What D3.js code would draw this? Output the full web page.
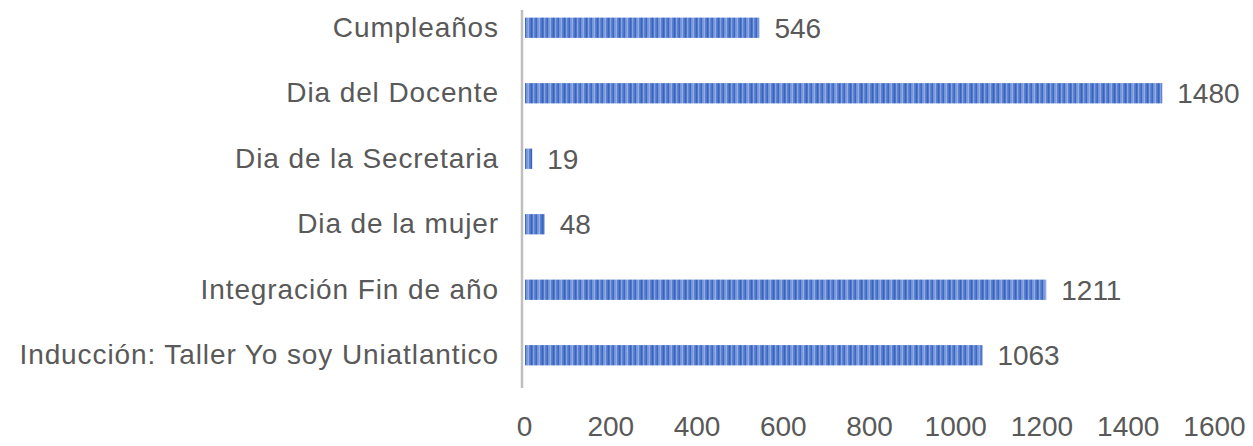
<!DOCTYPE html>
<html>
<head>
<meta charset="utf-8">
<script src="https://cdn.jsdelivr.net/npm/d3@7"></script>
<style>
html,body{margin:0;padding:0;background:#fff;}
svg{display:block;}
text{font-family:"Liberation Sans",Arial,sans-serif;fill:#595959;}
</style>
</head>
<body>
<svg id="chart" width="1253" height="446"></svg>
<script>
const categories = ["Cumpleaños","Dia del Docente","Dia de la Secretaria","Dia de la mujer","Integración Fin de año","Inducción: Taller Yo soy Uniatlantico"];
const values = [546,1480,19,48,1211,1063];
const tickValues = [0,200,400,600,800,1000,1200,1400,1600];

const svg = d3.select("#chart");
const x = d3.scaleLinear().domain([0,1600]).range([524,1214]);
const y = d3.scaleBand().domain(categories).range([-5,388]).paddingInner(0.69).paddingOuter(0.345);

// stripe pattern
const defs = svg.append("defs");
const pat = defs.append("pattern").attr("id","stripes").attr("patternUnits","userSpaceOnUse")
  .attr("width",11).attr("height",40);
pat.append("rect").attr("width",11).attr("height",40).attr("fill","#4f78cc");
[[0,1.2,"#93ade2"],[3,1,"#3a63ba"],[5,1.3,"#86a3df"],[8,1,"#4068c2"],[9.6,0.9,"#a7bdea"]].forEach(s=>{
  pat.append("rect").attr("x",s[0]).attr("width",s[1]).attr("height",40).attr("fill",s[2]);
});

// bars
svg.append("g").selectAll("rect").data(categories).join("rect")
  .attr("x",x(0)+1)
  .attr("y",d=>y(d))
  .attr("width",(d,i)=>x(values[i])-x(0)-1)
  .attr("height",y.bandwidth())
  .attr("fill","url(#stripes)");

// vertical axis line
svg.append("line").attr("x1",522).attr("x2",522).attr("y1",10).attr("y2",388)
  .attr("stroke","#bfbfbf").attr("stroke-width",2.5);

// category labels
const yAxis = d3.axisLeft(y).tickSize(0).tickPadding(0);
const gy = svg.append("g").attr("transform","translate(499,0)").call(yAxis);
gy.select(".domain").remove();
gy.selectAll("text").attr("font-size",28).attr("fill","#595959")
  .style("font-family","'Liberation Sans',Arial,sans-serif").style("letter-spacing","0.9px");

// value labels
svg.append("g").selectAll("text").data(categories).join("text")
  .attr("x",(d,i)=>x(values[i])+15)
  .attr("y",d=>y(d)+y.bandwidth()/2)
  .attr("dy","0.35em")
  .attr("font-size",28)
  .text((d,i)=>values[i]);

// x axis
const xAxis = d3.axisBottom(x).tickValues(tickValues).tickSize(0).tickPadding(0).tickFormat(d3.format("d"));
const gx = svg.append("g").attr("transform","translate(0,416)").call(xAxis);
gx.select(".domain").remove();
gx.selectAll("text").attr("font-size",28).attr("fill","#595959").style("font-family","'Liberation Sans',Arial,sans-serif");
</script>
</body>
</html>
